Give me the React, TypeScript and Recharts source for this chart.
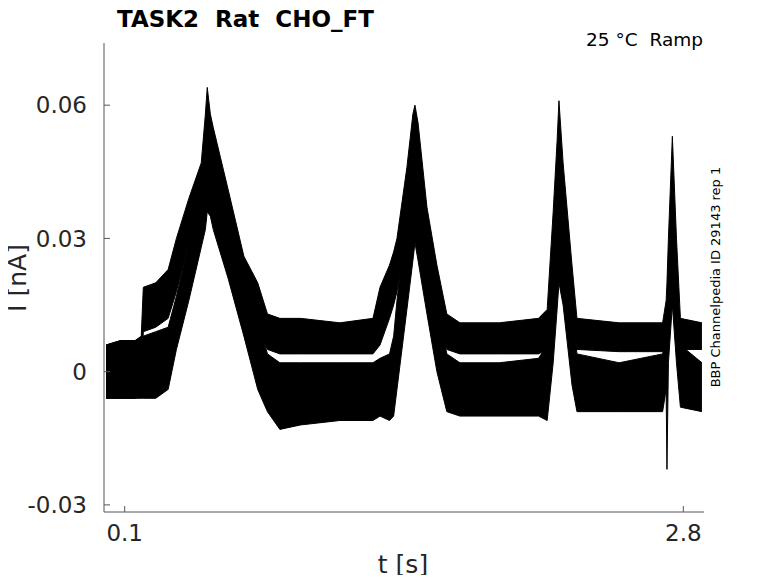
import React from "react";
import { ComposedChart, Area, XAxis, YAxis } from "recharts";

// sweep times (s) at the break points of the traces
const times = [
  0.01, 0.08, 0.15, 0.18, 0.19, 0.25, 0.31, 0.35, 0.41, 0.47, 0.49, 0.499, 0.514, 0.528,
  0.6, 0.676, 0.743, 0.79, 0.85, 0.95, 1.14, 1.3, 1.334, 1.38, 1.4, 1.416, 1.464, 1.493,
  1.503, 1.518, 1.561, 1.609, 1.657, 1.72, 1.91, 2.1, 2.142, 2.171, 2.19, 2.199, 2.219,
  2.262, 2.286, 2.49, 2.7, 2.717, 2.721, 2.728, 2.747, 2.767, 2.786, 2.89,
];

// upper group of sweeps: noise envelope (nA)
const upperLo = [
  -0.006, -0.006, -0.006, -0.005, 0.009, 0.01, 0.012, 0.018, 0.029, 0.036, 0.04, 0.04, 0.038, 0.036,
  0.03, 0.016, 0.01, 0.005, 0.004, 0.004, 0.004, 0.004, 0.006, 0.012, 0.015, 0.018, 0.032, 0.036,
  0.034, 0.032, 0.022, 0.012, 0.005, 0.004, 0.004, 0.004, 0.005, 0.022, 0.03, 0.03, 0.026,
  0.012, 0.005, 0.0045, 0.0045, 0.006, 0.008, 0.01, 0.025, 0.012, 0.005, 0.005,
];
const upperHi = [
  0.006, 0.007, 0.007, 0.008, 0.019, 0.02, 0.023, 0.03, 0.039, 0.047, 0.058, 0.064, 0.058, 0.055,
  0.041, 0.026, 0.02, 0.013, 0.012, 0.012, 0.011, 0.012, 0.019, 0.024, 0.027, 0.03, 0.046, 0.058,
  0.06, 0.056, 0.037, 0.024, 0.013, 0.011, 0.011, 0.012, 0.014, 0.036, 0.052, 0.061, 0.047,
  0.024, 0.012, 0.011, 0.011, 0.016, 0.02, 0.03, 0.053, 0.03, 0.012, 0.011,
];

// lower group of sweeps: noise envelope (nA)
const lowerLo = [
  -0.006, -0.006, -0.006, -0.006, -0.006, -0.006, -0.004, 0.005, 0.016, 0.028, 0.032, 0.036, 0.035, 0.032,
  0.021, 0.008, -0.004, -0.009, -0.013, -0.012, -0.011, -0.011, -0.01, -0.011, -0.01, -0.004, 0.014, 0.025,
  0.029, 0.025, 0.013, 0.0, -0.009, -0.01, -0.01, -0.01, -0.011, 0.002, 0.014, 0.02, 0.015,
  -0.003, -0.009, -0.009, -0.009, -0.004, -0.022, 0.002, 0.015, 0.002, -0.008, -0.009,
];
const lowerHi = [
  0.006, 0.007, 0.007, 0.007, 0.008, 0.009, 0.01, 0.017, 0.029, 0.041, 0.05, 0.058, 0.054, 0.052,
  0.038, 0.024, 0.012, 0.004, 0.002, 0.002, 0.002, 0.002, 0.003, 0.004, 0.008, 0.016, 0.036, 0.048,
  0.052, 0.048, 0.03, 0.016, 0.004, 0.002, 0.002, 0.003, 0.006, 0.028, 0.042, 0.048, 0.036,
  0.014, 0.004, 0.002, 0.004, 0.008, 0.012, 0.024, 0.045, 0.022, 0.006, 0.002,
];

const xTicks = [0.1, 2.8];
const yTicks = [-0.03, 0, 0.03, 0.06];

const data = times.map((t, i) => ({
  t,
  upper: [upperLo[i], upperHi[i]],
  lower: [lowerLo[i], lowerHi[i]],
}));

const FONT = "DejaVu Sans";
const AXIS = "#555";
const TXT = "#262626";

function YTick(props: any) {
  const { x, y, payload } = props;
  return (
    <g>
      <line x1={x} x2={x + 6} y1={y} y2={y} stroke={AXIS} />
      <text x={x - 17} y={y} dy="0.36em" textAnchor="end" fontFamily={FONT} fontSize={23} fill={TXT}>
        {payload.value}
      </text>
    </g>
  );
}

function XTick(props: any) {
  const { x, y, payload } = props;
  return (
    <g>
      <line x1={x} x2={x} y1={y} y2={y - 6} stroke={AXIS} />
      <text x={x} y={y + 29.4} textAnchor="middle" fontFamily={FONT} fontSize={23} fill={TXT}>
        {payload.value}
      </text>
    </g>
  );
}

export default function App() {
  return (
    <div style={{ position: "relative", width: 762, height: 567 }}>
      <ComposedChart width={762} height={567} data={data} margin={{ top: 35, right: 66, left: 0, bottom: 0 }}>
        <XAxis
          dataKey="t"
          type="number"
          domain={[0, 2.9]}
          ticks={xTicks}
          tick={<XTick />}
          tickLine={false}
          tickSize={0}
          tickMargin={0}
          height={63}
          axisLine={{ stroke: AXIS }}
          allowDataOverflow
        />
        <YAxis
          type="number"
          domain={[-0.0316, 0.074]}
          ticks={yTicks}
          tick={<YTick />}
          tickLine={false}
          tickSize={0}
          tickMargin={0}
          width={96}
          axisLine={{ stroke: AXIS }}
          allowDataOverflow
        />
        <Area
          type="linear"
          dataKey="lower"
          stroke="#000"
          strokeWidth={1}
          fill="#000"
          fillOpacity={1}
          dot={false}
          activeDot={false}
          isAnimationActive={false}
        />
        <Area
          type="linear"
          dataKey="upper"
          stroke="#000"
          strokeWidth={1}
          fill="#000"
          fillOpacity={1}
          dot={false}
          activeDot={false}
          isAnimationActive={false}
        />
      </ComposedChart>
      <svg
        width={762}
        height={567}
        style={{ position: "absolute", left: 0, top: 0, overflow: "visible", pointerEvents: "none" }}
      >
        <text x={109} y={18.7} fontFamily={FONT} fontWeight="bold" fontSize={23} fill="#000">
          {"TASK2\u00a0\u00a0Rat\u00a0\u00a0CHO_FT"}
        </text>
        <text x={695} y={37.5} textAnchor="end" fontFamily={FONT} fontSize={18.5} fill="#000">
          {"25 °C\u00a0\u00a0Ramp"}
        </text>
        <text
          x={712}
          y={269}
          transform="rotate(-90 712 269)"
          textAnchor="middle"
          fontFamily={FONT}
          fontSize={13}
          fill="#000"
        >
          BBP Channelpedia ID 29143 rep 1
        </text>
        <text
          x={17.5}
          y={270}
          transform="rotate(-90 17.5 270)"
          textAnchor="middle"
          fontFamily={FONT}
          fontSize={25}
          fill={TXT}
        >
          I [nA]
        </text>
        <text x={395} y={564.5} textAnchor="middle" fontFamily={FONT} fontSize={25} fill={TXT}>
          t [s]
        </text>
      </svg>
    </div>
  );
}
